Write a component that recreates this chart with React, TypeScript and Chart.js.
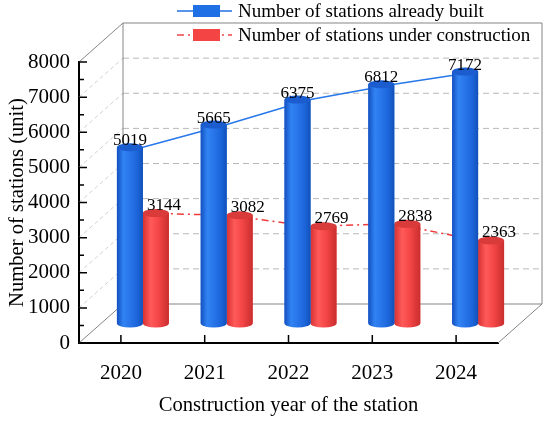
import React, { useEffect, useRef } from 'react';
import { Chart, registerables } from 'chart.js';

Chart.register(...registerables);

// data
const years = ['2020', '2021', '2022', '2023', '2024'];
const builtStations = [5019, 5665, 6375, 6812, 7172];
const underConstruction = [3144, 3082, 2769, 2838, 2363];
const yTickValues = [0, 1000, 2000, 3000, 4000, 5000, 6000, 7000, 8000];

const SERIF = "'Liberation Serif', 'Times New Roman', serif";
const BLUE = '#1f6fe5';
const RED = '#f44444';

// offset of the back wall of the box (the bars stand half way in)
const DEPTH_X = 44;
const DEPTH_Y = -39;

type Stop = [number, string];
const bluePalette: { body: Stop[]; cap: string } = {
    body: [[0, '#1450c0'], [0.25, '#3183f2'], [0.45, '#2a78ec'], [0.8, '#1a64d8'], [1, '#1250b8']],
    cap: '#1b5dcf',
};
const redPalette: { body: Stop[]; cap: string } = {
    body: [[0, '#d63232'], [0.3, '#ff5a5a'], [0.6, '#f44646'], [1, '#c92e2e']],
    cap: '#d93a3a',
};

function drawCylinder(ctx: CanvasRenderingContext2D, x: number, top: number, base: number, w: number, palette: { body: Stop[]; cap: string }) {
    const l = x - w / 2;
    const r = x + w / 2;
    const ry = 4;
    const g = ctx.createLinearGradient(l, 0, r, 0);
    palette.body.forEach(([s, c]) => g.addColorStop(s, c));
    ctx.fillStyle = g;
    ctx.beginPath();
    ctx.moveTo(l, top);
    ctx.lineTo(l, base);
    ctx.ellipse(x, base, w / 2, ry, 0, Math.PI, 0, true);
    ctx.lineTo(r, top);
    ctx.closePath();
    ctx.fill();
    ctx.fillStyle = palette.cap;
    ctx.beginPath();
    ctx.ellipse(x, top, w / 2, ry, 0, 0, Math.PI * 2);
    ctx.fill();
}

const boxPlugin = {
    id: 'box3d',
    beforeDatasetsDraw(chart: any) {
        const { ctx, chartArea } = chart;
        const { left, right, top, bottom } = chartArea;
        const ys = chart.scales.y;
        const xs = chart.scales.x;
        ctx.save();

        // faint lines on the left wall
        ctx.strokeStyle = '#c4c4c4';
        ctx.lineWidth = 0.8;
        ctx.setLineDash([4, 3]);
        yTickValues.slice(1, -1).forEach((v) => {
            const y = ys.getPixelForValue(v);
            ctx.beginPath();
            ctx.moveTo(left, y);
            ctx.lineTo(left + DEPTH_X, y + DEPTH_Y);
            ctx.stroke();
        });

        // dashed grid on the back wall
        ctx.strokeStyle = '#b8b8b8';
        ctx.lineWidth = 1;
        ctx.setLineDash([6, 4]);
        yTickValues.slice(1, -1).forEach((v) => {
            const y = ys.getPixelForValue(v) + DEPTH_Y;
            ctx.beginPath();
            ctx.moveTo(left + DEPTH_X, y);
            ctx.lineTo(right + DEPTH_X, y);
            ctx.stroke();
        });

        // box edges
        ctx.setLineDash([]);
        ctx.strokeStyle = '#858585';
        ctx.lineWidth = 1;
        const bl = left + DEPTH_X;
        const br = right + DEPTH_X;
        const bt = top + DEPTH_Y;
        const bb = bottom + DEPTH_Y;
        ctx.beginPath();
        ctx.moveTo(left, top); ctx.lineTo(bl, bt);
        ctx.lineTo(br, bt); ctx.lineTo(br, bb); ctx.lineTo(bl, bb); ctx.lineTo(bl, bt);
        ctx.moveTo(left, bottom); ctx.lineTo(bl, bb);
        ctx.moveTo(right, bottom); ctx.lineTo(br, bb);
        ctx.stroke();

        // inward tick marks
        ctx.strokeStyle = '#000';
        ctx.lineWidth = 1.5;
        ctx.beginPath();
        yTickValues.forEach((v, i) => {
            const y = ys.getPixelForValue(v);
            ctx.moveTo(left, y); ctx.lineTo(left + 8, y);
            if (i < yTickValues.length - 1) {
                const ym = ys.getPixelForValue(v + 500);
                ctx.moveTo(left, ym); ctx.lineTo(left + 5, ym);
            }
        });
        years.forEach((_, i) => {
            const x = xs.getPixelForValue(i);
            ctx.moveTo(x, bottom); ctx.lineTo(x, bottom - 8);
        });
        ctx.stroke();
        ctx.restore();
    },
    beforeDatasetDraw(chart: any) {
        chart.ctx.save();
        chart.ctx.translate(DEPTH_X / 2, DEPTH_Y / 2);
    },
    afterDatasetDraw(chart: any, args: any) {
        const { ctx } = chart;
        const meta = args.meta;
        if (meta.type === 'bar') {
            const palette = args.index === 0 ? bluePalette : redPalette;
            meta.data.forEach((bar: any) => {
                const p = bar.getProps(['x', 'y', 'base', 'width'], true);
                drawCylinder(ctx, p.x, p.y, p.base, p.width, palette);
            });
        }
        ctx.restore();
    },
    afterDatasetsDraw(chart: any) {
        const { ctx } = chart;
        ctx.save();
        ctx.font = `17px ${SERIF}`;
        ctx.fillStyle = '#000';
        ctx.textAlign = 'center';
        ctx.textBaseline = 'alphabetic';
        [0, 1].forEach((di) => {
            const meta = chart.getDatasetMeta(di);
            const values = di === 0 ? builtStations : underConstruction;
            meta.data.forEach((bar: any, i: number) => {
                const p = bar.getProps(['x', 'y'], true);
                const x = p.x + DEPTH_X / 2 + (di === 0 ? 0 : 8);
                const y = p.y + DEPTH_Y / 2 - (di === 0 ? 2 : 3);
                ctx.fillText(String(values[i]), x, y);
            });
        });
        ctx.restore();
    },
    afterDraw(chart: any) {
        const { ctx } = chart;
        ctx.save();
        const rows = [
            { label: 'Number of stations already built', color: BLUE, dash: [] as number[], y: 11 },
            { label: 'Number of stations under construction', color: RED, dash: [7, 4, 2, 4], y: 35 },
        ];
        rows.forEach((row) => {
            ctx.strokeStyle = row.color;
            ctx.lineWidth = 1.5;
            ctx.setLineDash(row.dash);
            ctx.beginPath();
            ctx.moveTo(177, row.y);
            ctx.lineTo(232, row.y);
            ctx.stroke();
            ctx.setLineDash([]);
            ctx.fillStyle = row.color;
            ctx.fillRect(193, row.y - 6, 27, 12);
            ctx.fillStyle = '#000';
            ctx.font = `19px ${SERIF}`;
            ctx.textBaseline = 'middle';
            ctx.textAlign = 'left';
            ctx.fillText(row.label, 238, row.y + 1);
        });
        ctx.restore();
    },
};

export default function App() {
    const canvasRef = useRef<HTMLCanvasElement>(null);
    const chartRef = useRef<Chart | null>(null);

    useEffect(() => {
        if (!canvasRef.current) return;
        if (chartRef.current) chartRef.current.destroy();

        chartRef.current = new Chart(canvasRef.current, {
            type: 'bar',
            data: {
                labels: years,
                datasets: [
                    {
                        type: 'bar',
                        label: 'Number of stations already built',
                        data: builtStations,
                        backgroundColor: BLUE,
                        borderWidth: 0,
                        order: 1,
                        clip: false,
                    },
                    {
                        type: 'bar',
                        label: 'Number of stations under construction',
                        data: underConstruction,
                        backgroundColor: RED,
                        borderWidth: 0,
                        order: 1,
                        clip: false,
                    },
                    {
                        type: 'line',
                        label: 'built trend',
                        data: builtStations,
                        borderColor: '#2677ea',
                        borderWidth: 1.5,
                        pointRadius: 0,
                        order: 2,
                        clip: false,
                    },
                    {
                        type: 'line',
                        label: 'construction trend',
                        data: underConstruction,
                        borderColor: '#f03a3a',
                        borderWidth: 1.5,
                        borderDash: [7, 4, 2, 4],
                        pointRadius: 0,
                        order: 2,
                        clip: false,
                    },
                ] as any,
            },
            options: {
                animation: false,
                responsive: true,
                maintainAspectRatio: false,
                layout: { padding: { top: 62, right: 52, left: 0, bottom: 0 } },
                datasets: { bar: { categoryPercentage: 0.62, barPercentage: 1 } },
                plugins: {
                    legend: { display: false },
                    tooltip: { enabled: false },
                },
                scales: {
                    x: {
                        offset: true,
                        grid: { display: false, drawTicks: false },
                        border: { display: true, color: '#000', width: 2 },
                        ticks: { color: '#000', font: { family: SERIF, size: 21 }, padding: 18 },
                        title: {
                            display: true,
                            text: 'Construction year of the station',
                            color: '#000',
                            font: { family: SERIF, size: 20.6 },
                            padding: { top: 0, bottom: 7 },
                        },
                        afterFit: (s: any) => { s.height = 82; },
                    },
                    y: {
                        min: 0,
                        max: 8000,
                        grid: { display: false, drawTicks: false },
                        border: { display: true, color: '#000', width: 2 },
                        ticks: {
                            stepSize: 1000,
                            color: '#000',
                            font: { family: SERIF, size: 21 },
                            padding: 9,
                            callback: (v: any) => String(v),
                        },
                        title: {
                            display: true,
                            text: 'Number of stations (unit)',
                            color: '#000',
                            font: { family: SERIF, size: 20.6 },
                            padding: { top: 5, bottom: 0 },
                        },
                        afterFit: (s: any) => { s.width = 79; },
                    },
                },
            },
            plugins: [boxPlugin],
        });

        return () => {
            if (chartRef.current) chartRef.current.destroy();
            chartRef.current = null;
        };
    }, []);

    return (
        <div style={{ position: 'absolute', left: 0, top: 0, width: 550, height: 425, background: '#fff' }}>
            <canvas ref={canvasRef}></canvas>
        </div>
    );
}
